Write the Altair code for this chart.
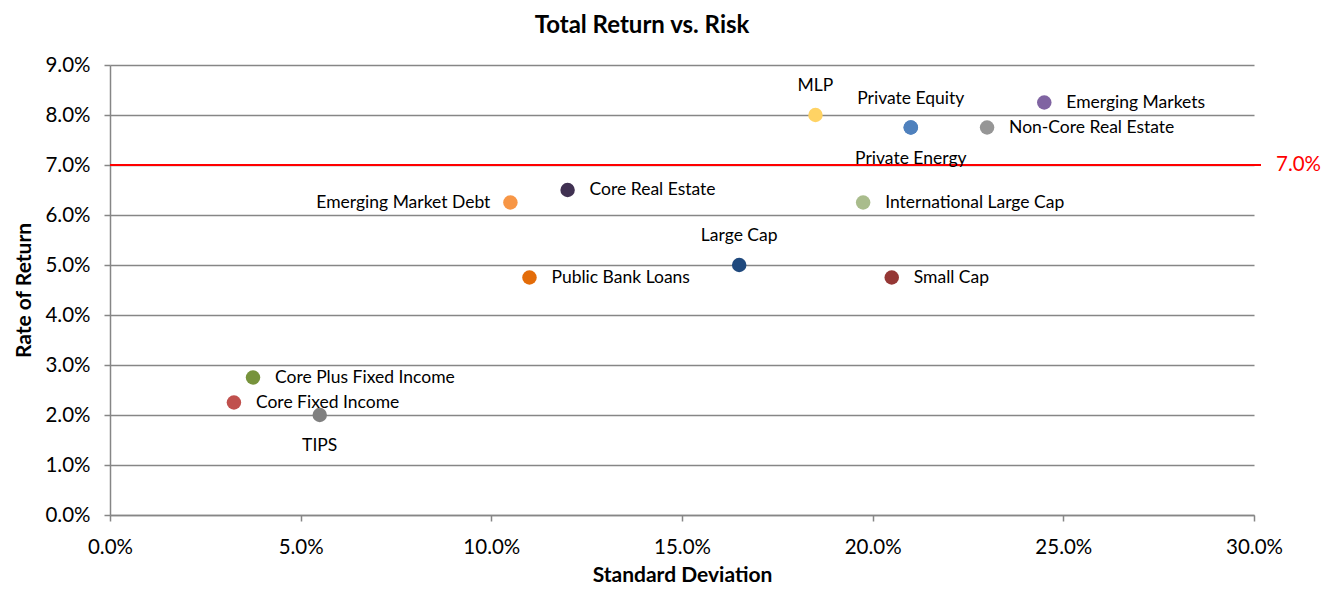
import altair as alt
import pandas as pd

names = ["Private Energy", "MLP", "Private Equity", "Non-Core Real Estate", "Emerging Markets",
         "Core Real Estate", "Emerging Market Debt", "International Large Cap", "Large Cap",
         "Public Bank Loans", "Small Cap", "Core Plus Fixed Income", "Core Fixed Income", "TIPS"]
std_dev = [0.21, 0.185, 0.21, 0.23, 0.245, 0.12, 0.105, 0.1975, 0.165, 0.11, 0.205, 0.0375, 0.0325, 0.055]
returns = [0.0775, 0.08, 0.0775, 0.0775, 0.0825, 0.065, 0.0625, 0.0625, 0.05, 0.0475, 0.0475, 0.0275, 0.0225, 0.02]
colors = ["#4F81BD", "#FFD364", "#4F81BD", "#969696", "#8064A2", "#403152", "#F79646", "#A9BC8C",
          "#1F497D", "#E36C09", "#953735", "#77933C", "#C0504D", "#808080"]

above = ["MLP", "Private Equity", "Large Cap"]
below = ["Private Energy", "TIPS"]
left = ["Emerging Market Debt"]

target = 0.07
x_ticks = [0, 0.05, 0.10, 0.15, 0.20, 0.25, 0.30]
y_ticks = [0, 0.01, 0.02, 0.03, 0.04, 0.05, 0.06, 0.07, 0.08, 0.09]

df = pd.DataFrame({"name": names, "sd": std_dev, "ret": returns})

FONT = "Lato"
W, H = 1144, 450

xs = alt.X("sd:Q", scale=alt.Scale(domain=[0, 0.30], nice=False, zero=True),
           axis=alt.Axis(values=x_ticks, format=".1%", title="Standard Deviation", grid=False,
                         labelFontSize=20.5, labelColor="#000000", labelPadding=16, labelFlush=False,
                         titleFontSize=21, titleFontWeight="bold", titleColor="#000000", titlePadding=7,
                         domainColor="#868686", domainWidth=1.5, tickColor="#868686", tickSize=6, tickWidth=1.5,
                         labelFont=FONT, titleFont=FONT))
ys = alt.Y("ret:Q", scale=alt.Scale(domain=[0, 0.09], nice=False),
           axis=alt.Axis(values=y_ticks, format=".1%", title="Rate of Return", grid=True,
                         gridColor="#868686", gridWidth=1.5,
                         labelFontSize=20.5, labelColor="#000000", labelPadding=14,
                         titleFontSize=21, titleFontWeight="bold", titleColor="#000000", titlePadding=10,
                         domainColor="#868686", domainWidth=1.5, tickColor="#868686", tickSize=6, tickWidth=1.5,
                         labelFont=FONT, titleFont=FONT))

base = alt.Chart(df)

points = base.mark_circle(size=210, opacity=1).encode(
    x=xs, y=ys,
    color=alt.Color("name:N", scale=alt.Scale(domain=names, range=colors), legend=None),
    order=alt.Order("ret:Q", sort="ascending"),
)

lab_style = dict(fontSize=17.5, font=FONT, color="#000000")

lab_right = base.transform_filter(
    ~alt.FieldOneOfPredicate(field="name", oneOf=above + below + left)
).mark_text(align="left", baseline="middle", dx=22, **lab_style).encode(x="sd:Q", y="ret:Q", text="name:N")

lab_left = base.transform_filter(
    alt.FieldOneOfPredicate(field="name", oneOf=left)
).mark_text(align="right", baseline="middle", dx=-20, **lab_style).encode(x="sd:Q", y="ret:Q", text="name:N")

lab_above = base.transform_filter(
    alt.FieldOneOfPredicate(field="name", oneOf=above)
).mark_text(align="center", baseline="middle", dy=-29, **lab_style).encode(x="sd:Q", y="ret:Q", text="name:N")

lab_below = base.transform_filter(
    alt.FieldOneOfPredicate(field="name", oneOf=below)
).mark_text(align="center", baseline="middle", dy=31, **lab_style).encode(x="sd:Q", y="ret:Q", text="name:N")

rule = alt.Chart(pd.DataFrame({"t": [target]})).mark_rule(color="#FF0000", strokeWidth=2).encode(
    y="t:Q", x=alt.value(0), x2=alt.value(W + 7)
)
rule_text = alt.Chart(pd.DataFrame({"t": [target]})).mark_text(
    align="left", baseline="middle", color="#FF0000", fontSize=20.5, font=FONT, dx=0
).encode(y="t:Q", x=alt.value(W + 22), text=alt.Text("t:Q", format=".1%"))

chart = alt.layer(rule, points, lab_right, lab_left, lab_above, lab_below, rule_text).properties(
    width=W, height=H,
    title=alt.TitleParams("Total Return vs. Risk", fontSize=24, font=FONT, fontWeight="bold",
                          color="#000000", anchor="middle", dx=-40, offset=17),
    autosize=alt.AutoSizeParams(type="none"),
    padding={"left": 102, "top": 57, "right": 69, "bottom": 72},
).configure_view(stroke=None)

chart.save("out.html", embed_options={"renderer": "svg", "actions": False})
